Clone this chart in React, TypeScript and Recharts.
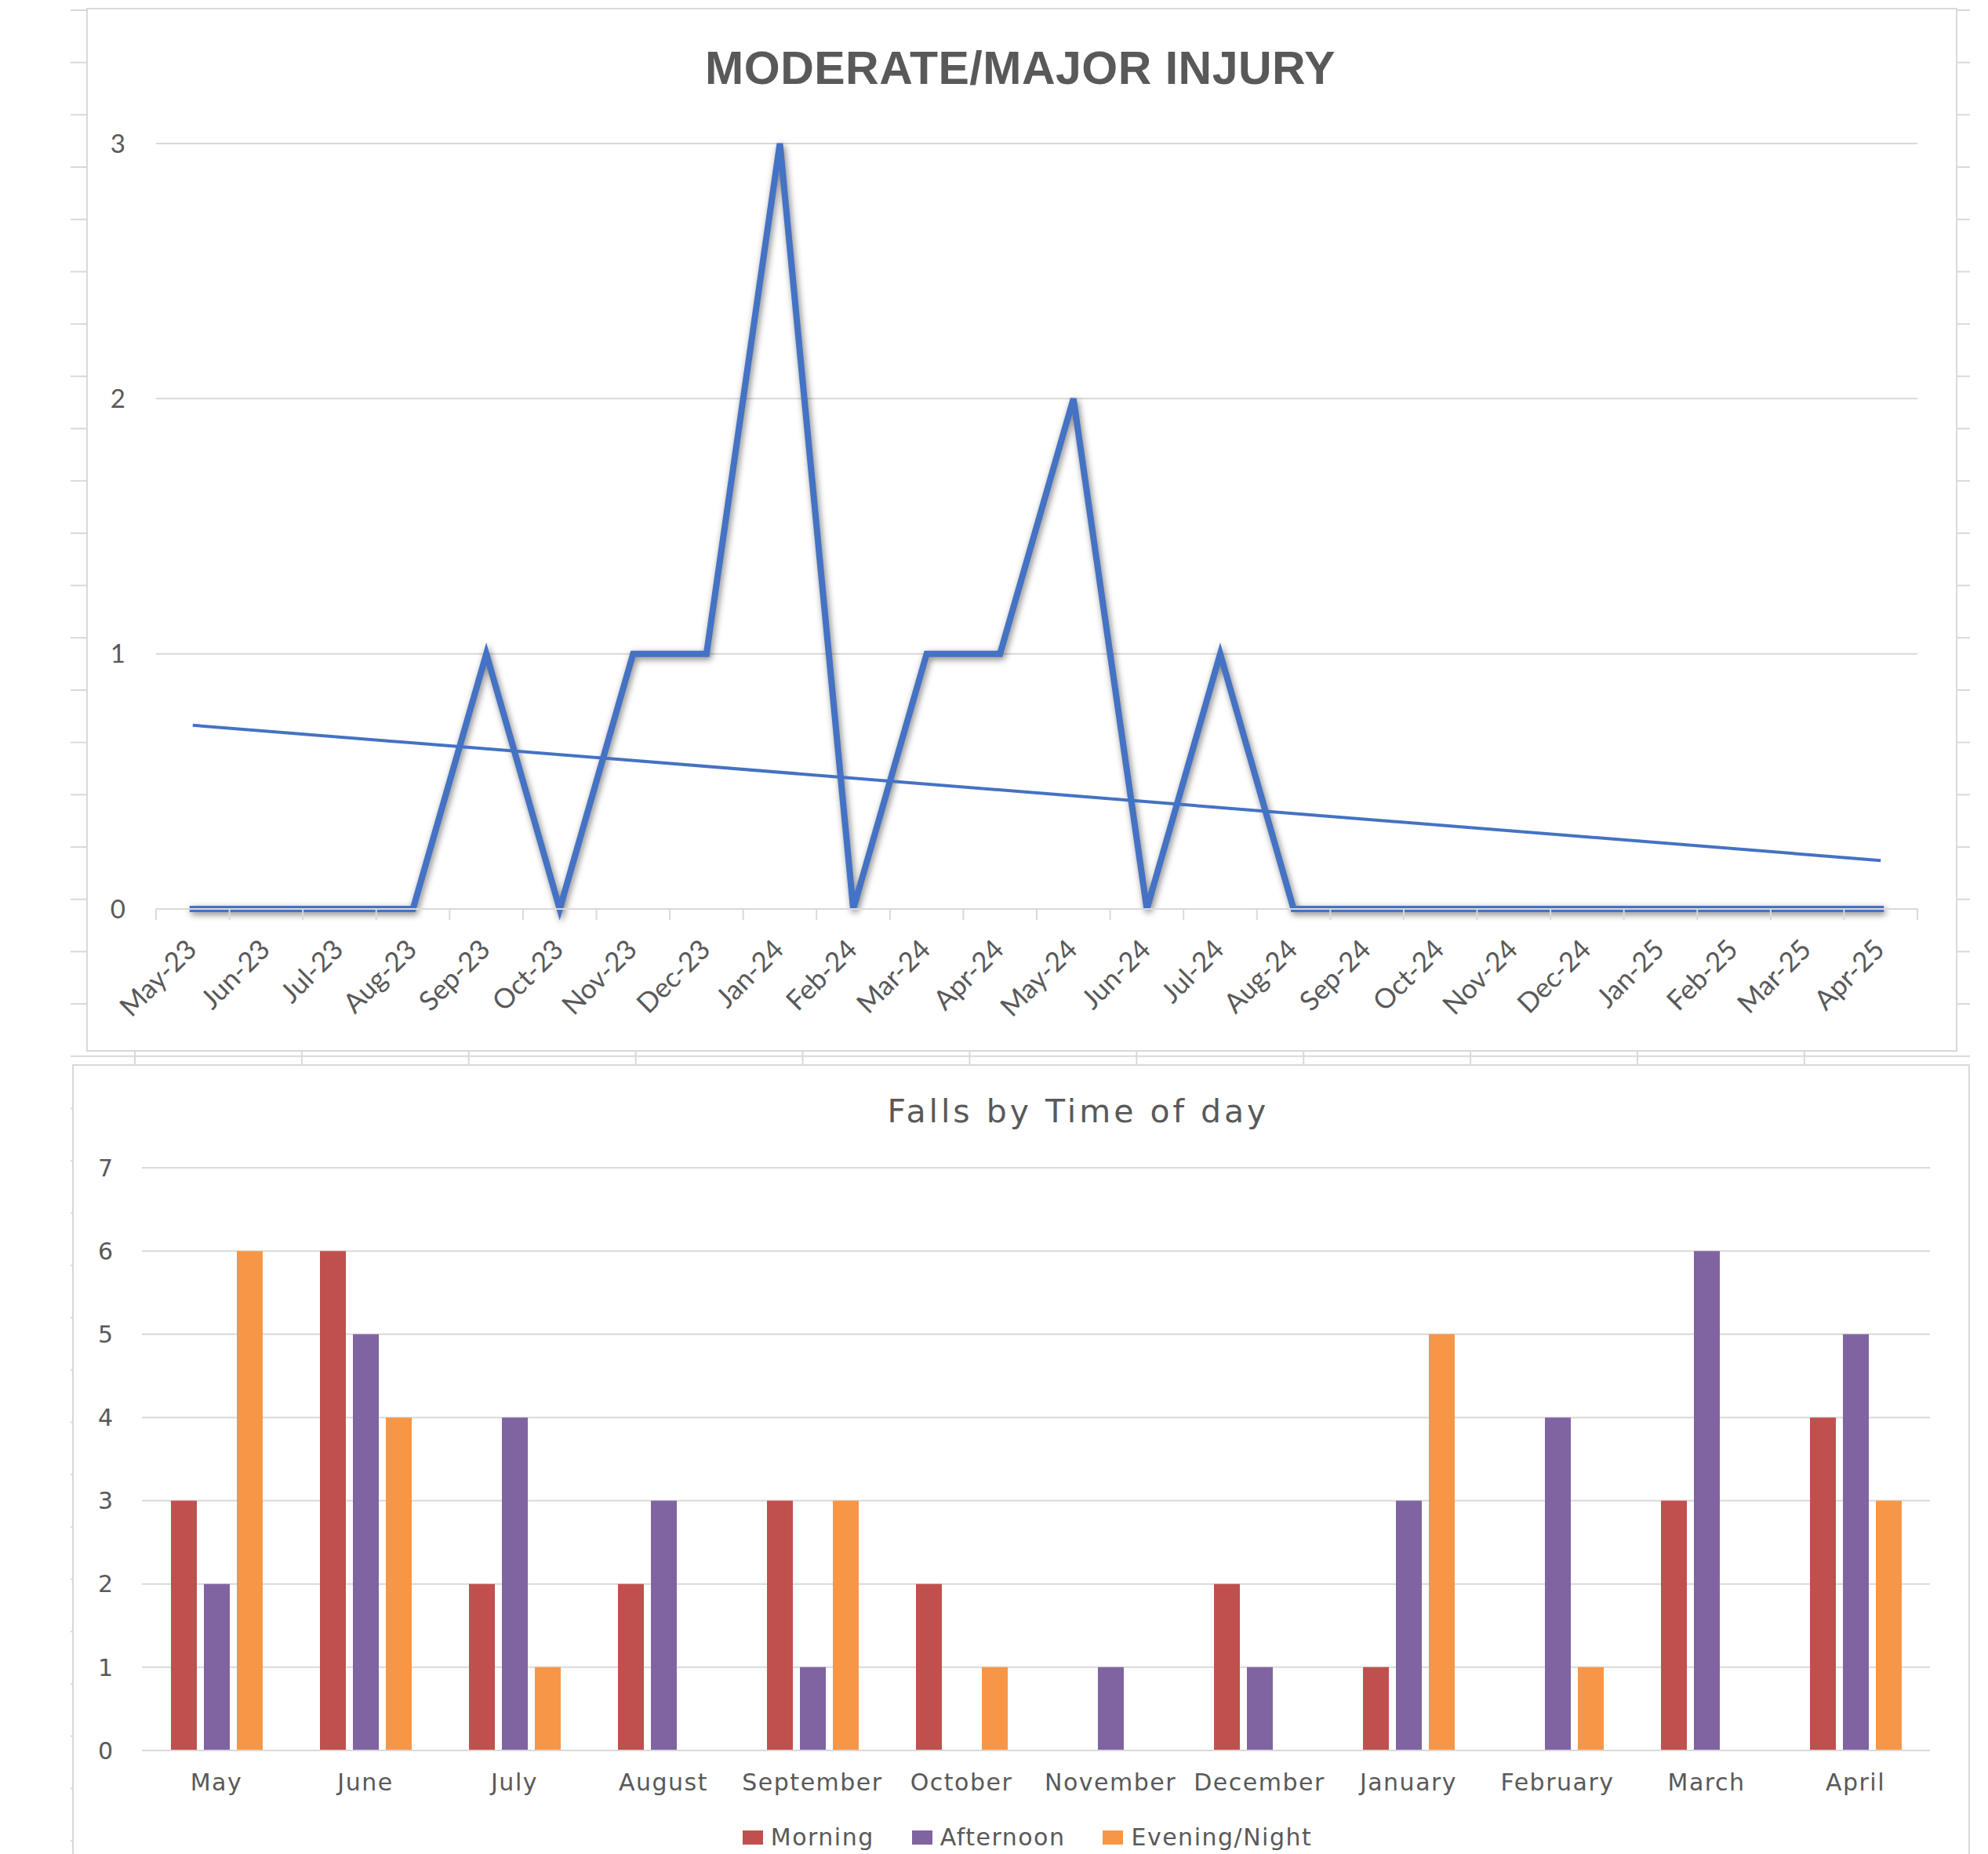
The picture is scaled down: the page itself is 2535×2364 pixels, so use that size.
import React from 'react';
import { LineChart, Line, XAxis, YAxis, CartesianGrid, BarChart, Bar, Legend } from 'recharts';

// ---------- Top chart data ----------
const injuryMonths = [
  'May-23', 'Jun-23', 'Jul-23', 'Aug-23', 'Sep-23', 'Oct-23', 'Nov-23', 'Dec-23',
  'Jan-24', 'Feb-24', 'Mar-24', 'Apr-24', 'May-24', 'Jun-24', 'Jul-24', 'Aug-24',
  'Sep-24', 'Oct-24', 'Nov-24', 'Dec-24', 'Jan-25', 'Feb-25', 'Mar-25', 'Apr-25',
];
const injuryCounts = [0, 0, 0, 0, 1, 0, 1, 1, 3, 0, 1, 1, 2, 0, 1, 0, 0, 0, 0, 0, 0, 0, 0, 0];
const injuryTrend: (number | null)[] = [
  0.72, null, null, null, null, null, null, null, null, null, null, null,
  null, null, null, null, null, null, null, null, null, null, null, 0.19,
];
const injuryTicks = [0, 1, 2, 3];

// ---------- Bottom chart data ----------
const fallMonths = [
  'May', 'June', 'July', 'August', 'September', 'October',
  'November', 'December', 'January', 'February', 'March', 'April',
];
const morning = [3, 6, 2, 2, 3, 2, 0, 2, 1, 0, 3, 4];
const afternoon = [2, 5, 4, 3, 1, 0, 1, 1, 3, 4, 6, 5];
const evening = [6, 4, 1, 0, 3, 1, 0, 0, 5, 1, 0, 3];
const fallSeries = ['Morning', 'Afternoon', 'Evening/Night'];
const fallTicks = [0, 1, 2, 3, 4, 5, 6, 7];

const injuryData = injuryMonths.map((m, i) => ({ month: m, count: injuryCounts[i], trend: injuryTrend[i] }));
const fallData = fallMonths.map((m, i) => ({ month: m, morning: morning[i], afternoon: afternoon[i], evening: evening[i] }));

const TEXT = '#595959';
const GRID = '#D9D9D9';
const TOP_PLOT_W = 2246;
const HALF_BAND = TOP_PLOT_W / (injuryMonths.length * 2);

function InjuryTick(props: any) {
  const { x, y, payload, index } = props;
  const last = index === injuryMonths.length - 1;
  return (
    <g>
      <line x1={x - HALF_BAND} x2={x - HALF_BAND} y1={y} y2={y + 14} stroke={GRID} strokeWidth={2} />
      {last && <line x1={x + HALF_BAND} x2={x + HALF_BAND} y1={y} y2={y + 14} stroke={GRID} strokeWidth={2} />}
      <text
        transform={`translate(${x + 7},${y + 54}) rotate(-45)`}
        textAnchor="end"
        fill={TEXT}
        fontSize={35}
        fontFamily="Lato"
      >
        {payload.value}
      </text>
    </g>
  );
}

function FallTick(props: any) {
  const { x, y, payload } = props;
  return (
    <text x={x} y={y + 51} textAnchor="middle" fill={TEXT} fontSize={30} fontFamily="DejaVu Sans" letterSpacing={1.5}>
      {payload.value}
    </text>
  );
}

function FallLegend(props: any) {
  const payload = [...(props.payload || [])].sort(
    (a: any, b: any) => fallSeries.indexOf(a.value) - fallSeries.indexOf(b.value)
  );
  return (
    <div
      style={{
        display: 'flex',
        justifyContent: 'center',
        alignItems: 'center',
        height: 40,
        paddingLeft: 28,
        boxSizing: 'border-box',
      }}
    >
      {payload.map((p: any, i: number) => (
        <div key={i} style={{ display: 'flex', alignItems: 'center', marginLeft: i === 0 ? 0 : 48 }}>
          <div style={{ width: 26, height: 18, background: p.color, marginRight: 10 }} />
          <span
            style={{
              fontFamily: 'DejaVu Sans',
              fontSize: 30,
              letterSpacing: 1.5,
              color: TEXT,
              lineHeight: '40px',
              whiteSpace: 'nowrap',
            }}
          >
            {p.value}
          </span>
        </div>
      ))}
    </div>
  );
}

export default function App() {
  return (
    <div
      style={{
        position: 'fixed',
        left: 0,
        top: 0,
        width: 2535,
        height: 2364,
        overflow: 'hidden',
        background: '#ffffff',
      }}
    >
      <style>{`.injury-line .recharts-line-curve { filter: drop-shadow(2px 3px 4px rgba(0,0,0,0.5)); }`}</style>

      {/* worksheet row lines */}
      <div
        style={{
          position: 'absolute',
          left: 90,
          top: 0,
          width: 2422,
          height: 2364,
          backgroundImage: `linear-gradient(to bottom, ${GRID} 0px, ${GRID} 2px, transparent 2px)`,
          backgroundSize: '100% 66.7px',
          backgroundPosition: '0px 12px',
        }}
      />
      {/* worksheet column lines (visible between the charts) */}
      <div
        style={{
          position: 'absolute',
          left: 90,
          top: 1330,
          width: 2422,
          height: 40,
          backgroundImage: `linear-gradient(to right, ${GRID} 0px, ${GRID} 2px, transparent 2px)`,
          backgroundSize: '212.9px 100%',
          backgroundPosition: '81px 0px',
        }}
      />

      {/* top chart frame */}
      <div
        style={{
          position: 'absolute',
          left: 110,
          top: 10,
          width: 2386,
          height: 1331,
          border: `2px solid ${GRID}`,
          boxSizing: 'border-box',
          background: '#ffffff',
        }}
      />
      {/* bottom chart frame */}
      <div
        style={{
          position: 'absolute',
          left: 92,
          top: 1357,
          width: 2420,
          height: 1100,
          border: `2px solid ${GRID}`,
          boxSizing: 'border-box',
          background: '#ffffff',
        }}
      />

      <div
        style={{
          position: 'absolute',
          left: 301,
          top: 58,
          width: 2000,
          textAlign: 'center',
          fontFamily: 'Liberation Sans',
          fontWeight: 700,
          fontSize: 59,
          lineHeight: '59px',
          letterSpacing: 0.5,
          color: TEXT,
          whiteSpace: 'nowrap',
        }}
      >
        MODERATE/MAJOR INJURY
      </div>

      <div style={{ position: 'absolute', left: 110, top: 11 }}>
        <LineChart width={2385} height={1329} data={injuryData} margin={{ top: 172, right: 50, bottom: 0, left: 39 }}>
          <CartesianGrid vertical={false} stroke={GRID} strokeWidth={2} />
          <XAxis
            dataKey="month"
            interval={0}
            height={181}
            tickLine={false}
            tickSize={0}
            tickMargin={0}
            axisLine={{ stroke: GRID, strokeWidth: 2 }}
            padding={{ left: HALF_BAND, right: HALF_BAND }}
            tick={(p: any) => <InjuryTick {...p} />}
          />
          <YAxis
            width={50}
            domain={[0, 3]}
            ticks={injuryTicks}
            axisLine={false}
            tickLine={false}
            tickSize={0}
            tickMargin={39}
            tick={{ fill: TEXT, fontSize: 33, fontFamily: 'Lato' }}
          />
          <Line
            className="injury-line"
            type="linear"
            dataKey="count"
            stroke="#4472C4"
            strokeWidth={8}
            strokeLinecap="square"
            dot={false}
            activeDot={false}
            isAnimationActive={false}
          />
          <Line
            type="linear"
            dataKey="trend"
            connectNulls
            stroke="#4472C4"
            strokeWidth={4}
            dot={false}
            activeDot={false}
            isAnimationActive={false}
          />
        </LineChart>
      </div>

      <div
        style={{
          position: 'absolute',
          left: 375,
          top: 1397,
          width: 2000,
          textAlign: 'center',
          fontFamily: 'DejaVu Sans',
          fontSize: 41,
          lineHeight: '41px',
          letterSpacing: 4,
          color: TEXT,
          whiteSpace: 'nowrap',
        }}
      >
        Falls by Time of day
      </div>

      <div style={{ position: 'absolute', left: 92, top: 1357 }}>
        <BarChart
          width={2419}
          height={1030}
          data={fallData}
          margin={{ top: 132, right: 50, bottom: 24, left: 39 }}
          barSize={33}
          barGap={9}
        >
          <CartesianGrid vertical={false} stroke={GRID} strokeWidth={2} />
          <XAxis
            dataKey="month"
            interval={0}
            height={91}
            tickLine={false}
            tickSize={0}
            tickMargin={0}
            axisLine={{ stroke: GRID, strokeWidth: 2 }}
            tick={(p: any) => <FallTick {...p} />}
          />
          <YAxis
            width={50}
            domain={[0, 7]}
            ticks={fallTicks}
            axisLine={false}
            tickLine={false}
            tickSize={0}
            tickMargin={37}
            tick={{ fill: TEXT, fontSize: 30, fontFamily: 'DejaVu Sans' }}
          />
          <Legend
            verticalAlign="bottom"
            itemSorter={(item: any) => fallSeries.indexOf(item.value)}
            content={(p: any) => <FallLegend {...p} />}
          />
          <Bar dataKey="morning" name="Morning" fill="#C0504D" isAnimationActive={false} />
          <Bar dataKey="afternoon" name="Afternoon" fill="#8064A2" isAnimationActive={false} />
          <Bar dataKey="evening" name="Evening/Night" fill="#F79646" isAnimationActive={false} />
        </BarChart>
      </div>
    </div>
  );
}
